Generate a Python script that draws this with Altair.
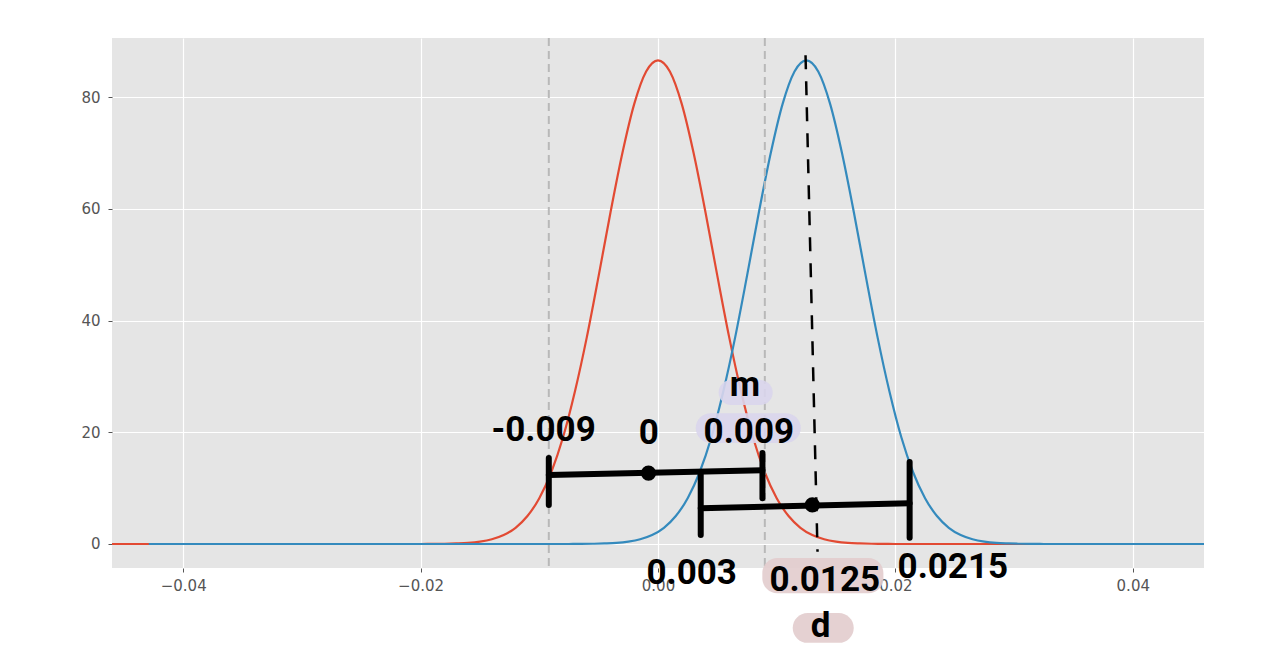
import altair as alt
import pandas as pd

# ---------------- data ----------------
# curve sample offsets from each curve's centre (x units of 0.001)
OFFSETS = [-20, -19, -18, -17, -16, -15, -14, -13, -12, -11, -10, -9, -8, -7, -6, -5, -4, -3, -2, -1,
           0, 1, 2, 3, 4, 5, 6, 7, 8, 9, 10, 11, 12, 13, 14, 15, 16, 17, 18, 19, 20]
RED_Y = [0.0, 0.02, 0.04, 0.1, 0.2, 0.43, 0.85, 1.6, 2.9, 5.0, 8.2, 12.8, 19.1, 27.3, 37.0, 48.0, 59.4, 70.0, 78.8, 84.6,
         86.6, 84.6, 78.8, 70.0, 59.4, 48.0, 37.0, 27.3, 19.1, 12.8, 8.2, 5.0, 2.9, 1.6, 0.85, 0.43, 0.2, 0.1, 0.04, 0.02, 0.0]
BLUE_Y = [0.0, 0.02, 0.04, 0.1, 0.2, 0.43, 0.85, 1.6, 2.9, 5.0, 8.2, 12.8, 19.1, 27.3, 37.0, 48.0, 59.4, 70.0, 78.8, 84.6,
          86.6, 84.6, 78.8, 70.0, 59.4, 48.0, 37.0, 27.3, 19.1, 12.8, 8.2, 5.0, 2.9, 1.6, 0.85, 0.43, 0.2, 0.1, 0.04, 0.02, 0.0]
RED_CENTER = 0.0
BLUE_CENTER = 0.0125
RED_RANGE = [-0.046, 0.046]
BLUE_RANGE = [-0.0429, 0.046]

X_TICKS = [-0.04, -0.02, 0.0, 0.02, 0.04]
Y_TICKS = [0, 20, 40, 60, 80]
X_DOMAIN = [-0.046, 0.046]
Y_DOMAIN = [-4.3, 90.6]

CUTOFFS = [-0.0092, 0.0090]

# hand-drawn annotation segments
SEG_X = [-0.0092, 0.0036, -0.0092, 0.0088, 0.0036, 0.0212]
SEG_Y = [12.35, 6.4, 15.4, 16.3, 12.7, 14.7]
SEG_X2 = [0.0088, 0.0212, -0.0092, 0.0088, 0.0036, 0.0212]
SEG_Y2 = [13.2, 7.3, 7.0, 8.2, 1.6, 1.1]
DOT_X = [-0.0008, 0.0130]
DOT_Y = [12.7, 7.0]
D_LINE_X = [0.01243, 0.01344]
D_LINE_Y = [87.5, -1.4]

LABELS = ["-0.009", "0", "m", "0.009", "0.003", "0.0125", "0.0215", "d"]
LABEL_X = [-0.00964, -0.00078, 0.00733, 0.00765, 0.00284, 0.01405, 0.02484, 0.0137]
LABEL_Y = [20.4, 19.9, 28.5, 20.0, -5.2, -6.4, -4.1, -14.7]

HL_X = [0.00511, 0.00318, 0.00879, 0.01135]
HL_X2 = [0.00966, 0.01203, 0.01899, 0.01649]
HL_Y = [29.35, 23.4, -2.5, -12.35]
HL_Y2 = [24.9, 18.1, -8.8, -17.7]
HL_GROUP = ["m", "m", "d", "d"]

# ---------------- tables ----------------
red = pd.DataFrame({"x": [RED_RANGE[0]] + [RED_CENTER + o / 1000 for o in OFFSETS] + [RED_RANGE[1]],
                    "y": [0.0] + RED_Y + [0.0]})
blue = pd.DataFrame({"x": [BLUE_RANGE[0]] + [BLUE_CENTER + o / 1000 for o in OFFSETS] + [BLUE_RANGE[1]],
                     "y": [0.0] + BLUE_Y + [0.0]})
cut = pd.DataFrame({"x": CUTOFFS})
segs = pd.DataFrame({"x": SEG_X, "y": SEG_Y, "x2": SEG_X2, "y2": SEG_Y2})
dots = pd.DataFrame({"x": DOT_X, "y": DOT_Y})
dline = pd.DataFrame({"x": [D_LINE_X[0]], "y": [D_LINE_Y[0]], "x2": [D_LINE_X[1]], "y2": [D_LINE_Y[1]]})
labels = pd.DataFrame({"t": LABELS, "x": LABEL_X, "y": LABEL_Y})
hls = pd.DataFrame({"x": HL_X, "x2": HL_X2, "y": HL_Y, "y2": HL_Y2, "g": HL_GROUP})

xs = alt.Scale(domain=X_DOMAIN, nice=False, zero=False)
ys = alt.Scale(domain=Y_DOMAIN, nice=False, zero=False)

xaxis = alt.Axis(values=X_TICKS, format=".2f", labelExpr="replace(datum.label, '-', '\u2212')", title=None,
                 labelPadding=6)
yaxis = alt.Axis(values=Y_TICKS, format="d", title=None, labelPadding=8)

X = alt.X("x:Q", scale=xs, axis=xaxis)
Y = alt.Y("y:Q", scale=ys, axis=yaxis)

red_line = alt.Chart(red).mark_line(color="#E24A33", strokeWidth=2.2, interpolate="monotone").encode(x=X, y=Y)
blue_line = alt.Chart(blue).mark_line(color="#348ABD", strokeWidth=2.2, interpolate="monotone").encode(x=X, y=Y)

cut_rules = alt.Chart(cut).mark_rule(color="#B8B8B8", strokeWidth=2, strokeDash=[8, 5]).encode(x=alt.X("x:Q", scale=xs))

highlights = alt.Chart(hls).mark_rect(cornerRadius=15, clip=False, opacity=0.9).encode(
    x=alt.X("x:Q", scale=xs), x2="x2:Q", y=alt.Y("y:Q", scale=ys), y2="y2:Q",
    color=alt.Color("g:N", scale=alt.Scale(domain=["m", "d"], range=["#D9D5EC", "#E2CCCD"]), legend=None),
)

d_line = alt.Chart(dline).mark_rule(color="black", strokeWidth=2.5, strokeDash=[14, 12], clip=False).encode(
    x=alt.X("x:Q", scale=xs), y=alt.Y("y:Q", scale=ys), x2="x2:Q", y2="y2:Q")

seg_rules = alt.Chart(segs).mark_rule(color="black", strokeWidth=6, strokeCap="round").encode(
    x=alt.X("x:Q", scale=xs), y=alt.Y("y:Q", scale=ys), x2="x2:Q", y2="y2:Q")

dot_marks = alt.Chart(dots).mark_circle(color="black", size=230, opacity=1).encode(
    x=alt.X("x:Q", scale=xs), y=alt.Y("y:Q", scale=ys))

texts = alt.Chart(labels).mark_text(
    font="Roboto", fontWeight="bold",
    fontSize=35, color="black", align="center", baseline="middle", clip=False,
).encode(x=alt.X("x:Q", scale=xs), y=alt.Y("y:Q", scale=ys), text="t:N")

chart = alt.layer(
    red_line, blue_line, cut_rules, highlights, d_line, seg_rules, dot_marks, texts
).properties(
    width=1092, height=530,
    autosize=alt.AutoSizeParams(type="none"),
    padding={"left": 104, "top": 30, "right": 60, "bottom": 86},
).configure_view(
    fill="#E5E5E5", stroke=None
).configure_axis(
    domain=False, grid=True, gridColor="white", gridWidth=1.2,
    tickColor="#555555", tickSize=4, tickWidth=1,
    labelColor="#555555", labelFontSize=15, labelFont="DejaVu Sans",
)

chart.save("out.html", embed_options={"renderer": "svg", "actions": False})
